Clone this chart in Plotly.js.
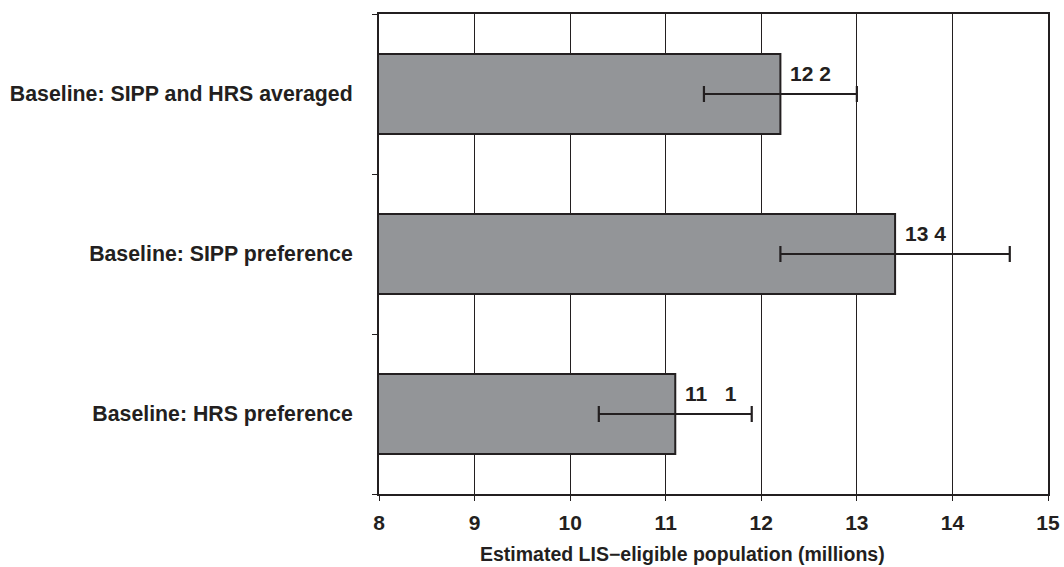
<!DOCTYPE html>
<html>
<head>
<meta charset="utf-8">
<script src="https://cdn.plot.ly/plotly-3.0.1.min.js"></script>
<style>html,body{margin:0;padding:0;background:#fff;}#chart{width:1064px;height:567px;}</style>
</head>
<body>
<div id="chart"></div>
<script>
// Data (top-to-bottom order in the picture)
var categories = ["Baseline: SIPP and HRS averaged", "Baseline: SIPP preference", "Baseline: HRS preference"];
var estimates = [12.2, 13.4, 11.1];
var errLow = [11.4, 12.2, 10.3];
var errHigh = [13.0, 14.6, 11.9];
var valueLabels = ["12 2", "13 4", "11   1"];
var xTickVals = [8, 9, 10, 11, 12, 13, 14, 15];
var xTitle = "Estimated LIS\u2212eligible population (millions)";

var ink = "#231f20";
var font = "Liberation Sans, Arial, sans-serif";

var plus = estimates.map(function (v, i) { return errHigh[i] - v; });
var minus = estimates.map(function (v, i) { return v - errLow[i]; });

var trace = {
  type: "bar",
  orientation: "h",
  y: categories,
  x: estimates,
  width: 0.5,
  marker: { color: "#939598", line: { color: ink, width: 2 } },
  error_x: {
    type: "data", symmetric: false, array: plus, arrayminus: minus,
    color: ink, thickness: 2.2, width: 8
  },
  hoverinfo: "none"
};

var annotations = estimates.map(function (v, i) {
  return {
    x: v, y: categories[i], xref: "x", yref: "y",
    text: "<b>" + valueLabels[i] + "</b>",
    showarrow: false, xanchor: "left", yanchor: "middle",
    xshift: 8, yshift: 21,
    font: { family: font, size: 21, color: ink }
  };
});
annotations.push({
  xref: "paper", yref: "paper", x: 0.453, y: -0.124,
  xanchor: "center", yanchor: "middle", showarrow: false,
  text: "<b>" + xTitle + "</b>",
  font: { family: font, size: 19.5, color: ink }
});

var layout = {
  width: 1064, height: 567,
  margin: { l: 379, r: 16, t: 14, b: 73, pad: 0 },
  paper_bgcolor: "#fff", plot_bgcolor: "#fff",
  showlegend: false,
  font: { family: font, color: ink },
  xaxis: {
    range: [8, 15], tickvals: xTickVals, ticktext: xTickVals.map(function (t) { return "<b>" + t + "</b>"; }),
    showgrid: true, gridcolor: ink, gridwidth: 1,
    zeroline: false,
    showline: true, linecolor: ink, linewidth: 2, mirror: true,
    ticks: "outside", ticklen: 5, tickwidth: 1, tickcolor: ink,
    ticklabelstandoff: 4,
    tickfont: { family: font, size: 21, color: ink }
  },
  yaxis: {
    type: "category", autorange: "reversed",
    tickvals: categories,
    ticktext: categories.map(function (c) { return "<b>" + c + "</b>"; }),
    tickson: "boundaries",
    showgrid: false, zeroline: false,
    showline: true, linecolor: ink, linewidth: 2, mirror: true,
    ticks: "outside", ticklen: 5, tickwidth: 1, tickcolor: ink,
    ticklabelstandoff: 20,
    tickfont: { family: font, size: 21.3, color: ink }
  },
  annotations: annotations
};

Plotly.newPlot("chart", [trace], layout, { staticPlot: true, displayModeBar: false });
</script>
</body>
</html>
